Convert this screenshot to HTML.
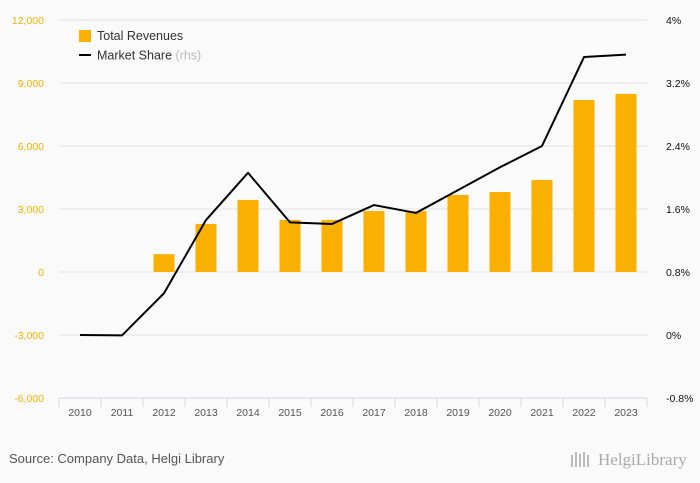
<!DOCTYPE html>
<html><head><meta charset="utf-8"><style>
body{margin:0;background:#fafafa;}
svg{display:block;font-family:"Liberation Sans",sans-serif;}
</style></head><body>
<svg id="chart" width="700" height="483" viewBox="0 0 700 483">
<rect width="700" height="483" fill="#fafafa"/>
<g id="grid"></g><g id="bars"></g><g id="line"></g><g id="axes"></g>
<g>
<rect x="79" y="30" width="12" height="12" fill="#f9b000"/>
<text x="97" y="40" font-size="12.5" fill="#333">Total Revenues</text>
<rect x="79" y="54" width="12" height="2" fill="#000"/>
<text x="97" y="59.5" font-size="12.5" fill="#333">Market Share <tspan fill="#bbb">(rhs)</tspan></text>
</g>
<text x="9" y="463" font-size="13" fill="#555">Source: Company Data, Helgi Library</text>
<text x="598" y="465" font-size="17" fill="#aaa" font-family="Liberation Serif,serif">HelgiLibrary</text>
<g fill="#bbb"><rect x="571" y="455" width="2" height="12"/><rect x="575" y="452" width="2" height="15"/><rect x="579" y="454" width="2" height="13"/><rect x="583" y="452" width="2" height="15"/><rect x="587" y="455" width="2" height="12"/></g>
</svg>
<script>
const years=["2010","2011","2012","2013","2014","2015","2016","2017","2018","2019","2020","2021","2022","2023"];
const revenues=[null,null,850,2290,3430,2480,2480,2900,2900,3670,3810,4380,8190,8480];
const marketShare=[0,-0.005,0.53,1.46,2.06,1.43,1.41,1.65,1.55,1.84,2.13,2.4,3.53,3.56];
const leftTicks=[12000,9000,6000,3000,0,-3000,-6000];
const rightTicks=[4,3.2,2.4,1.6,0.8,0,-0.8];
const NS="http://www.w3.org/2000/svg";
const x0=59,bw=42,yTop=20,yBot=398;
const yL=v=>yTop+(12000-v)/18000*(yBot-yTop);
const yR=v=>yTop+(4-v)/4.8*(yBot-yTop);
const xC=i=>x0+bw*i+bw/2;
function mk(tag,attrs,parent,txt){const e=document.createElementNS(NS,tag);for(const k in attrs)e.setAttribute(k,attrs[k]);if(txt!=null)e.textContent=txt;document.getElementById(parent).appendChild(e);return e;}
const fmt=v=>(v<0?"-":"")+Math.abs(v).toLocaleString("en-US");
leftTicks.forEach(t=>{
  if(t!==-6000){const g=mk("line",{x1:x0,x2:x0+bw*years.length,y1:yL(t),y2:yL(t),stroke:"#e3e3e3"},"grid");
  
  }
  const l=mk("text",{x:44,y:yL(t)+4,"text-anchor":"end","font-size":"10.5",fill:"#f9b000"},"axes",fmt(t));
  
  
});
rightTicks.forEach(t=>{
  const l=mk("text",{x:666,y:yR(t)+4,"font-size":"10.5",fill:"#111"},"axes",t.toFixed(1).replace(".0","")+"%");
  
  
});
const ax=mk("line",{x1:x0,x2:x0+bw*years.length,y1:yBot,y2:yBot,stroke:"#cfd8e6"},"axes");


for(let i=0;i<=years.length;i++){const t=mk("line",{x1:x0+bw*i,x2:x0+bw*i,y1:yBot,y2:yBot+9,stroke:"#cfd8e6"},"axes");
  
  }
years.forEach((y,i)=>{
  const l=mk("text",{x:xC(i),y:yBot+18,"text-anchor":"middle","font-size":"10.5",fill:"#555"},"axes",y);
  
  
  if(revenues[i]!=null){
    const v=revenues[i];
    const b=mk("rect",{x:xC(i)-10.5,width:21,y:Math.min(yL(v),yL(0)),height:Math.abs(yL(0)-yL(v)),fill:"#f9b000"},"bars");
    
    
  }
});
const pts=marketShare.map((v,i)=>xC(i)+","+yR(v)).join(" ");
const pl=mk("polyline",{points:pts,fill:"none",stroke:"#000","stroke-width":2,"stroke-linejoin":"round"},"line");


</script>
</body></html>
